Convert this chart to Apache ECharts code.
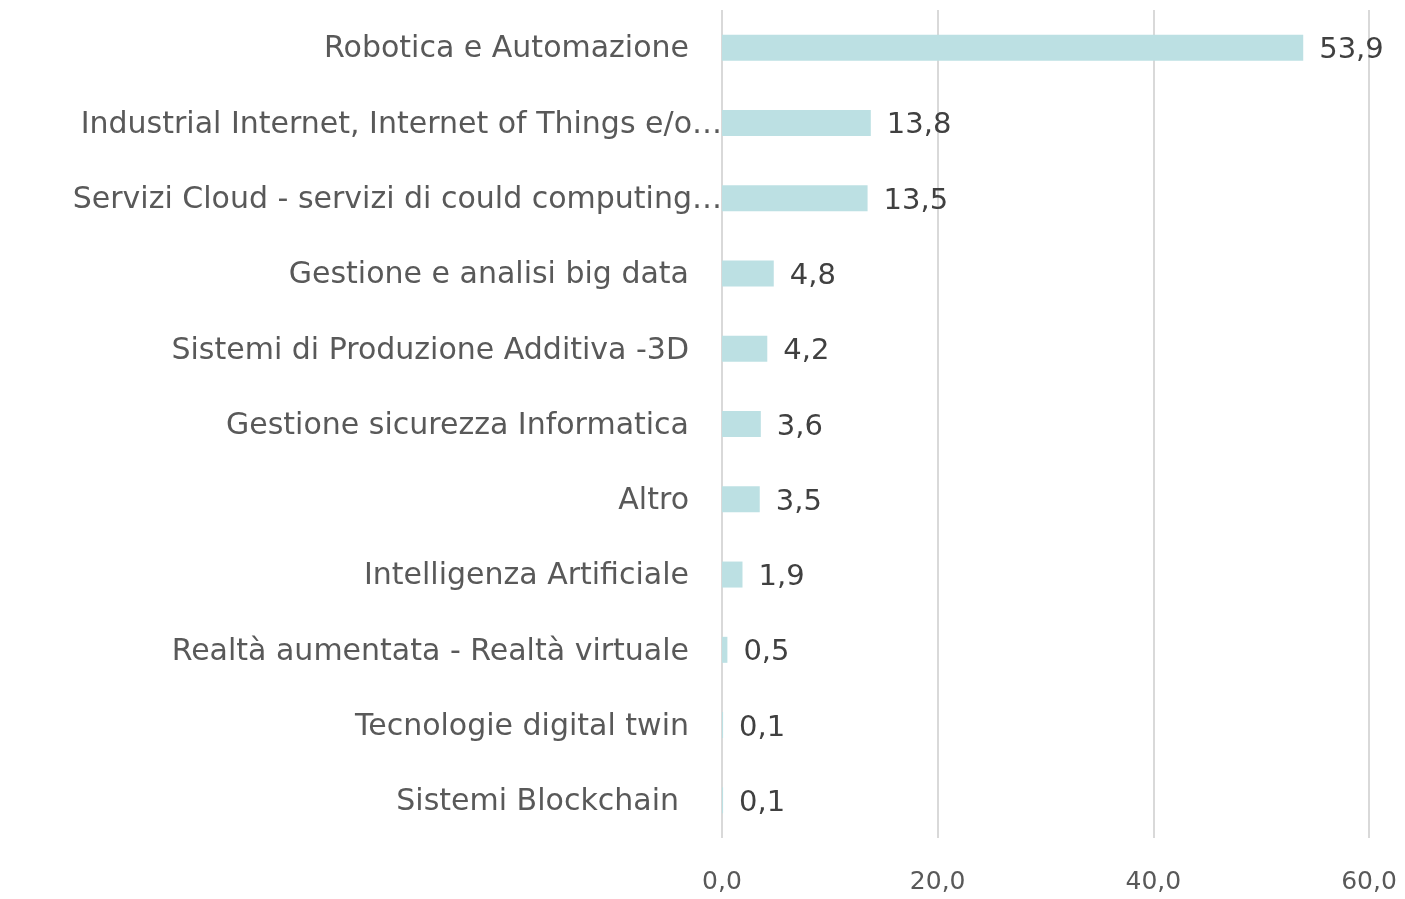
<!DOCTYPE html>
<html>
<head>
<meta charset="utf-8">
<script src="https://cdn.jsdelivr.net/npm/echarts@6/dist/echarts.min.js"></script>
<style>
  html, body { margin: 0; padding: 0; background: #fff; }
  #chart { width: 1405px; height: 899px; }
</style>
</head>
<body>
<div id="chart"></div>
<script>
let categories = [
  'Robotica e Automazione',
  'Industrial Internet, Internet of Things e/o…',
  'Servizi Cloud - servizi di could computing…',
  'Gestione e analisi big data',
  'Sistemi di Produzione Additiva -3D',
  'Gestione sicurezza Informatica',
  'Altro',
  'Intelligenza Artificiale',
  'Realtà aumentata - Realtà virtuale',
  'Tecnologie digital twin',
  'Sistemi Blockchain '
];
let values = [53.9, 13.8, 13.5, 4.8, 4.2, 3.6, 3.5, 1.9, 0.5, 0.1, 0.1];

let FONT = '"DejaVu Sans", "Noto Sans", sans-serif';
let comma = v => Number(v).toFixed(1).replace('.', ',');

let chart = echarts.init(document.getElementById('chart'));

chart.setOption({
  animation: false,
  grid: { left: 722, right: 36, top: 10, bottom: 61, containLabel: false },
  xAxis: {
    type: 'value',
    min: 0,
    max: 60,
    interval: 20,
    axisLine: { show: false },
    axisTick: { show: false },
    splitLine: { lineStyle: { color: '#d9d9d9', width: 2 } },
    axisLabel: {
      formatter: comma,
      color: '#595959',
      fontFamily: FONT,
      fontSize: 25,
      margin: 32
    }
  },
  yAxis: {
    type: 'category',
    inverse: true,
    data: categories,
    axisLine: { show: false },
    axisTick: { show: false },
    axisLabel: {
      margin: 0,
      color: '#595959',
      fontFamily: FONT,
      fontSize: 30,
      formatter: v => {
        if (v.endsWith('…')) return '{e|' + v + '}';
        if (v.endsWith(' ')) return '{b|' + v.trim() + '}';
        return '{n|' + v + '}';
      },
      rich: {
        n: { padding: [4, 33, 0, 0], fontSize: 30, fontFamily: FONT, color: '#595959' },
        b: { padding: [4, 43, 0, 0], fontSize: 30, fontFamily: FONT, color: '#595959' },
        e: { padding: [4, 0, 0, 0], fontSize: 30, fontFamily: FONT, color: '#595959' }
      }
    }
  },
  series: [{
    type: 'bar',
    data: values,
    barWidth: 26,
    itemStyle: { color: '#bce0e3' },
    label: {
      show: true,
      position: 'right',
      distance: 16,
      formatter: p => comma(p.value),
      color: '#404040',
      fontFamily: FONT,
      fontSize: 29,
      offset: [0, 3]
    }
  }]
});
</script>
</body>
</html>
